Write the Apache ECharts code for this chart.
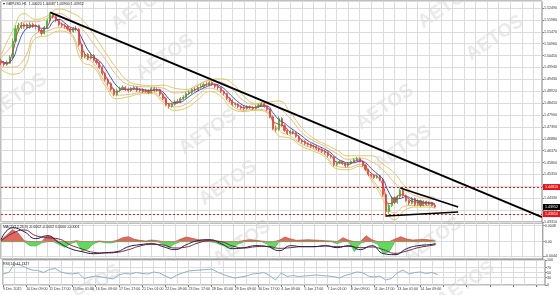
<!DOCTYPE html>
<html><head><meta charset="utf-8">
<script src="https://cdn.jsdelivr.net/npm/echarts@6/dist/echarts.min.js"></script>
<style>html,body{margin:0;padding:0;background:#fff}#c{width:560px;height:295px}</style>
</head><body><div id="c"></div>
<script>
// ---- time axis (4-hour buckets, one tick label every 8 buckets = 32 H1 bars)
const tickLabels = ["9 Dec 2015","10 Dec 09:00","11 Dec 17:00","15 Dec 01:00","16 Dec 09:00","17 Dec 17:00","21 Dec 01:00","22 Dec 09:00","23 Dec 17:00","28 Dec 01:00","29 Dec 09:00","30 Dec 17:00","4 Jan 09:00","5 Jan 17:00","7 Jan 01:00","8 Jan 09:00","11 Jan 17:00","13 Jan 01:00","14 Jan 09:00"];
const slotCount = 188; // includes empty chart shift on the right

// ---- GBPUSD price (OHLC)
const opens = [1.5020,1.5013,1.5006,1.5012,1.5038,1.5106,1.5160,1.5175,1.5168,1.5178,
1.5165,1.5179,1.5170,1.5174,1.5152,1.5140,1.5166,1.5195,1.5222,1.5212,
1.5196,1.5178,1.5174,1.5170,1.5160,1.5148,1.5161,1.5158,1.5092,1.5040,
1.5050,1.5033,1.5046,1.5024,1.5015,1.4993,1.4968,1.4942,1.4925,1.4899,
1.4878,1.4895,1.4904,1.4909,1.4900,1.4895,1.4904,1.4908,1.4896,1.4899,
1.4891,1.4895,1.4887,1.4903,1.4896,1.4899,1.4878,1.4861,1.4835,1.4827,
1.4836,1.4848,1.4846,1.4861,1.4866,1.4882,1.4887,1.4899,1.4897,1.4909,
1.4913,1.4921,1.4919,1.4929,1.4921,1.4912,1.4907,1.4891,1.4882,1.4861,
1.4852,1.4835,1.4836,1.4826,1.4821,1.4818,1.4826,1.4822,1.4818,1.4826,
1.4831,1.4838,1.4827,1.4814,1.4783,1.4731,1.4728,1.4775,1.4745,1.4724,
1.4711,1.4719,1.4714,1.4698,1.4681,1.4676,1.4668,1.4663,1.4655,1.4656,
1.4647,1.4641,1.4634,1.4629,1.4616,1.4611,1.4577,1.4583,1.4590,1.4581,
1.4572,1.4582,1.4590,1.4598,1.4603,1.4591,1.4574,1.4556,1.4535,1.4530,
1.4522,1.4529,1.4513,1.4449,1.4376,1.4402,1.4436,1.4415,1.4440,1.4466,
1.4445,1.4423,1.4411,1.4432,1.4406,1.4423,1.4402,1.4419,1.4406,1.4415,
1.44020];
const closes = [1.5013,1.5006,1.5012,1.5038,1.5106,1.5160,1.5175,1.5168,1.5178,1.5165,
1.5179,1.5170,1.5174,1.5152,1.5140,1.5166,1.5195,1.5222,1.5212,1.5196,
1.5178,1.5174,1.5170,1.5160,1.5148,1.5161,1.5158,1.5092,1.5040,1.5050,
1.5033,1.5046,1.5024,1.5015,1.4993,1.4968,1.4942,1.4925,1.4899,1.4878,
1.4895,1.4904,1.4909,1.4900,1.4895,1.4904,1.4908,1.4896,1.4899,1.4891,
1.4895,1.4887,1.4903,1.4896,1.4899,1.4878,1.4861,1.4835,1.4827,1.4836,
1.4848,1.4846,1.4861,1.4866,1.4882,1.4887,1.4899,1.4897,1.4909,1.4913,
1.4921,1.4919,1.4929,1.4921,1.4912,1.4907,1.4891,1.4882,1.4861,1.4852,
1.4835,1.4836,1.4826,1.4821,1.4818,1.4826,1.4822,1.4818,1.4826,1.4831,
1.4838,1.4827,1.4814,1.4783,1.4731,1.4728,1.4775,1.4745,1.4724,1.4711,
1.4719,1.4714,1.4698,1.4681,1.4676,1.4668,1.4663,1.4655,1.4656,1.4647,
1.4641,1.4634,1.4629,1.4616,1.4611,1.4577,1.4583,1.4590,1.4581,1.4572,
1.4582,1.4590,1.4598,1.4603,1.4591,1.4574,1.4556,1.4535,1.4530,1.4522,
1.4529,1.4513,1.4449,1.4376,1.4402,1.4436,1.4415,1.4440,1.4466,1.4445,
1.4423,1.4411,1.4432,1.4406,1.4423,1.4402,1.4419,1.4406,1.4415,1.4402,
1.43952];
const highs = [1.5032,1.5021,1.5024,1.5046,1.5118,1.5174,1.5186,1.5189,1.5185,1.5183,
1.5188,1.5186,1.5181,1.5178,1.5159,1.5172,1.5203,1.5230,1.5228,1.5218,
1.5201,1.5187,1.5182,1.5176,1.5164,1.5168,1.5172,1.5163,1.5098,1.5062,
1.5056,1.5058,1.5051,1.5032,1.5020,1.5001,1.4974,1.4950,1.4931,1.4905,
1.4902,1.4912,1.4918,1.4915,1.4908,1.4911,1.4916,1.4913,1.4906,1.4905,
1.4903,1.4900,1.4911,1.4910,1.4907,1.4903,1.4884,1.4866,1.4842,1.4843,
1.4855,1.4858,1.4867,1.4875,1.4889,1.4896,1.4905,1.4908,1.4915,1.4922,
1.4928,1.4931,1.4936,1.4934,1.4926,1.4918,1.4911,1.4897,1.4886,1.4868,
1.4857,1.4844,1.4841,1.4832,1.4829,1.4833,1.4831,1.4828,1.4833,1.4839,
1.4846,1.4843,1.4831,1.4819,1.4788,1.4742,1.4786,1.4781,1.4750,1.4731,
1.4727,1.4724,1.4719,1.4703,1.4688,1.4682,1.4673,1.4669,1.4663,1.4661,
1.4652,1.4647,1.4640,1.4634,1.4622,1.4615,1.4591,1.4597,1.4594,1.4586,
1.4588,1.4596,1.4606,1.4611,1.4607,1.4595,1.4579,1.4560,1.4541,1.4536,
1.4535,1.4533,1.4517,1.4453,1.4410,1.4442,1.4441,1.4447,1.4475,1.4470,
1.4449,1.4427,1.4438,1.4436,1.4429,1.4427,1.4425,1.4423,1.4420,1.4418,
1.44087];
const lows = [1.5004,1.4998,1.5001,1.5008,1.5031,1.5099,1.5150,1.5159,1.5160,1.5157,
1.5160,1.5163,1.5158,1.5146,1.5131,1.5135,1.5160,1.5189,1.5203,1.5188,
1.5170,1.5165,1.5161,1.5152,1.5140,1.5143,1.5149,1.5084,1.5031,1.5033,
1.5025,1.5027,1.5018,1.5006,1.4987,1.4960,1.4935,1.4916,1.4891,1.4870,
1.4872,1.4887,1.4897,1.4893,1.4887,1.4889,1.4898,1.4889,1.4888,1.4884,
1.4885,1.4879,1.4882,1.4889,1.4888,1.4871,1.4853,1.4826,1.4818,1.4821,
1.4830,1.4839,1.4841,1.4854,1.4860,1.4875,1.4880,1.4890,1.4891,1.4902,
1.4906,1.4912,1.4913,1.4915,1.4905,1.4898,1.4884,1.4874,1.4855,1.4844,
1.4828,1.4826,1.4819,1.4813,1.4810,1.4812,1.4815,1.4811,1.4813,1.4820,
1.4826,1.4821,1.4807,1.4776,1.4724,1.4719,1.4722,1.4739,1.4717,1.4704,
1.4705,1.4706,1.4691,1.4674,1.4668,1.4661,1.4655,1.4648,1.4646,1.4640,
1.4633,1.4627,1.4620,1.4609,1.4603,1.4569,1.4571,1.4578,1.4575,1.4564,
1.4567,1.4577,1.4585,1.4592,1.4586,1.4568,1.4549,1.4528,1.4521,1.4515,
1.4516,1.4506,1.4440,1.4352,1.4368,1.4396,1.4408,1.4410,1.4434,1.4439,
1.4416,1.4403,1.4406,1.4399,1.4400,1.4396,1.4398,1.4401,1.4402,1.4397,
1.43900];

// ---- envelope bands, read every 4 buckets (last one at bucket 150)
const outerUp = [1.5045,1.5150,1.5225,1.5200,1.5215,1.5245,1.5230,1.5200,1.5135,1.5060,1.4990,1.4935,1.4920,1.4915,1.4918,1.4905,1.4900,1.4920,1.4940,1.4945,1.4925,1.4870,1.4840,1.4845,1.4850,1.4800,1.4735,1.4690,1.4665,1.4640,1.4615,1.4615,1.4615,1.4580,1.4540,1.4480,1.4450,1.4440,1.4435];
const outerLow = [1.4985,1.4965,1.4990,1.5120,1.5130,1.5150,1.5135,1.5020,1.4995,1.4915,1.4860,1.4868,1.4880,1.4882,1.4845,1.4810,1.4820,1.4855,1.4890,1.4870,1.4815,1.4805,1.4810,1.4800,1.4700,1.4690,1.4655,1.4635,1.4610,1.4560,1.4555,1.4570,1.4510,1.4430,1.4340,1.4385,1.4395,1.4395,1.4390];
const innerUp = [1.5035,1.5095,1.5190,1.5190,1.5205,1.5225,1.5200,1.5160,1.5095,1.5030,1.4960,1.4920,1.4912,1.4910,1.4905,1.4885,1.4890,1.4915,1.4936,1.4930,1.4900,1.4850,1.4836,1.4838,1.4820,1.4775,1.4715,1.4680,1.4655,1.4625,1.4600,1.4605,1.4590,1.4555,1.4500,1.4465,1.4440,1.4430,1.4428];
const innerLow = [1.4995,1.4995,1.5030,1.5140,1.5150,1.5165,1.5145,1.5050,1.5010,1.4930,1.4875,1.4878,1.4886,1.4888,1.4855,1.4825,1.4838,1.4875,1.4905,1.4885,1.4830,1.4810,1.4815,1.4805,1.4725,1.4700,1.4665,1.4645,1.4618,1.4570,1.4565,1.4578,1.4520,1.4450,1.4370,1.4400,1.4402,1.4402,1.4398];

// ---- moving averages, read every 2 buckets
const maFast = [1.5016,1.5010,1.5060,1.5150,1.5174,1.5173,1.5173,1.5150,1.5170,1.5212,1.5190,1.5174,1.5156,1.5158,1.5080,1.5040,1.5035,1.5008,1.4960,1.4918,1.4888,1.4902,1.4900,1.4903,1.4898,1.4893,1.4895,1.4898,1.4875,1.4838,1.4838,1.4852,1.4872,1.4891,1.4903,1.4914,1.4923,1.4920,1.4902,1.4875,1.4848,1.4832,1.4821,1.4822,1.4822,1.4832,1.4825,1.4765,1.4750,1.4740,1.4716,1.4708,1.4682,1.4667,1.4657,1.4645,1.4634,1.4617,1.4588,1.4585,1.4578,1.4590,1.4597,1.4570,1.4540,1.4526,1.4490,1.4410,1.4420,1.4448,1.4440,1.4420,1.4416,1.4412,1.4411,1.4404];
const maSlow = [1.5022,1.5014,1.5030,1.5095,1.5150,1.5168,1.5172,1.5162,1.5162,1.5190,1.5200,1.5185,1.5166,1.5158,1.5118,1.5070,1.5040,1.5022,1.4990,1.4950,1.4915,1.4900,1.4900,1.4901,1.4901,1.4897,1.4896,1.4898,1.4888,1.4860,1.4843,1.4845,1.4860,1.4878,1.4893,1.4905,1.4916,1.4922,1.4912,1.4893,1.4868,1.4846,1.4830,1.4824,1.4822,1.4827,1.4828,1.4800,1.4770,1.4755,1.4735,1.4718,1.4700,1.4680,1.4667,1.4655,1.4643,1.4628,1.4605,1.4592,1.4585,1.4585,1.4592,1.4585,1.4560,1.4538,1.4515,1.4460,1.4430,1.4432,1.4440,1.4430,1.4422,1.4416,1.4414,1.4410];

// ---- drawn trend lines [bucket, price]
const mainTrend = [[17, 1.5230], [187, 1.4352]];
const triUpper = [[138, 1.4477], [158, 1.4395]];
const triLower = [[133, 1.4357], [158, 1.4374]];
const levelLines = [1.4481, 1.4365];

// ---- MACD panel
const macdHist = [0.0005,0.0020,0.0036,0.0025,0.0003,-0.0012,-0.0013,-0.0004,0.0018,0.0012,-0.0008,-0.0017,-0.0006,0.0003,-0.0028,-0.0022,-0.0006,0.0002,-0.0003,-0.0004,0.0004,0.0012,0.0015,0.0007,0.0004,0.0002,0.0005,0.0003,-0.0008,-0.0018,-0.0006,0.0008,0.0014,0.0010,0.0006,0.0005,0.0004,-0.0003,-0.0010,-0.0015,-0.0018,-0.0006,0.0004,0.0006,0.0004,0.0002,-0.0008,-0.0024,0.0004,0.0014,0.0008,0.0004,0.0005,0.0006,0.0005,0.0004,0.0003,0.0002,-0.0006,0.0012,0.0004,-0.0030,-0.0005,0.0018,0.0006,-0.0008,-0.0036,-0.0030,0.0008,0.0015,0.0008,0.0005,0.0006,0.0007,0.0005,0.0004];
const macdMain = [0.0006,0.0042,0.0030,0.0009,0.0018,-0.0003,-0.0021,-0.0030,-0.0036,-0.0033,-0.0030,-0.0015,-0.0009,-0.0006,-0.0015,-0.0024,-0.0009,0.0003,0.0006,-0.0006,-0.0021,-0.0018,-0.0012,-0.0015,-0.0027,-0.0012,-0.0015,-0.0015,-0.0012,-0.0018,-0.0012,-0.0024,-0.0012,-0.0036,-0.0039,-0.0021,-0.0012,-0.0009,-0.0006];
const macdSignal = [0.0002,0.0025,0.0035,0.0018,0.0012,0.0008,-0.0010,-0.0022,-0.0032,-0.0034,-0.0032,-0.0024,-0.0013,-0.0008,-0.0010,-0.0019,-0.0016,-0.0004,0.0003,0.0000,-0.0013,-0.0019,-0.0015,-0.0014,-0.0020,-0.0018,-0.0015,-0.0015,-0.0013,-0.0015,-0.0014,-0.0018,-0.0016,-0.0024,-0.0035,-0.0028,-0.0018,-0.0012,-0.0009];
const macdTicks = [0.0048, 0, -0.0044];
const macdLegend = [-0.0002, -0.0002, 0.0000, -0.0001];

// ---- RSI panel, read every 2 buckets
const rsi = [45,50,85,80,68,60,58,50,62,66,52,46,44,48,26,32,36,32,28,24,40,46,44,50,46,44,52,48,36,26,40,48,56,58,60,62,64,52,42,34,28,32,36,44,46,50,38,20,48,34,38,34,36,38,40,38,36,34,28,38,44,52,50,36,32,36,20,26,48,60,44,50,52,46,50,41.1327];
const rsiTicks = [100, 70, 50, 30, 0];

// ---------------- build chart ----------------
const slots = Array.from({length: slotCount}, (_, i) => String(i));
const idx4 = outerUp.map((_, k) => Math.min(k * 4, closes.length - 1));
const idx2 = maFast.map((_, k) => k * 2);
const pairs = (idx, vals) => idx.map((c, k) => [c, vals[k]]);
const last = closes.length - 1;
const FONT = 'Liberation Sans';
const TXT = 3.6;

function xAx(gi, labels) {
  return {
    type: 'category', gridIndex: gi, data: slots, boundaryGap: false,
    axisLine: {show: false},
    axisTick: {show: labels, interval: 7, length: 2, lineStyle: {color: '#777'}},
    axisLabel: {show: labels, interval: 7, fontSize: TXT, fontFamily: FONT, color: '#333', align: 'left', margin: 2,
      formatter: (v, i) => (i % 8 === 0 && tickLabels[i / 8]) ? tickLabels[i / 8] : ''},
    splitLine: {show: true, interval: 3, lineStyle: {color: '#dcdcdc', width: 1}}
  };
}
const ylab = {fontSize: TXT, fontFamily: FONT, color: '#333', margin: 2};

function lineS(data, color, opts) {
  return Object.assign({type: 'line', data, symbol: 'none', showSymbol: false, silent: true,
    lineStyle: {color, width: 1}, itemStyle: {color}, xAxisIndex: 0, yAxisIndex: 0, z: 3}, opts || {});
}

const boxLabel = (bg) => ({show: true, position: 'end', distance: 1, fontSize: TXT, fontFamily: FONT, color: '#fff',
  backgroundColor: bg, padding: [1, 2], formatter: p => Number(p.value).toFixed(5)});

const wm = [[140,8],[165,57],[447,6],[495,38],[208,132],[228,183],[385,107],[403,148],[433,240],[466,284],[92,287],[242,243],[18,96]];
const small = TXT + 'px "' + FONT + '"';

const option = {
  animation: false,
  backgroundColor: '#fff',
  grid: [
    {left: 1, right: 15, top: 1, bottom: 73, show: true, borderColor: '#808080', borderWidth: 1},
    {left: 1, right: 15, top: 223, height: 36, show: true, borderColor: '#808080', borderWidth: 1},
    {left: 1, right: 15, top: 260, height: 25, show: true, borderColor: '#808080', borderWidth: 1}
  ],
  xAxis: [xAx(0, false), xAx(1, false), xAx(2, true)],
  yAxis: [
    {type: 'value', gridIndex: 0, position: 'right', min: 1.4331, max: 1.5279, interval: 0.0051,
      axisLine: {show: false}, axisTick: {show: true, length: 2, lineStyle: {color: '#888'}},
      axisLabel: Object.assign({formatter: v => v.toFixed(5), showMaxLabel: false}, ylab),
      splitLine: {lineStyle: {color: '#dcdcdc'}}},
    {type: 'value', gridIndex: 1, position: 'right', min: -0.0052, max: 0.0056,
      axisLine: {show: false}, axisTick: {show: true, length: 2, customValues: macdTicks, lineStyle: {color: '#888'}},
      axisLabel: Object.assign({customValues: macdTicks, formatter: v => v === 0 ? '0.00' : v.toFixed(4)}, ylab),
      splitLine: {show: true, lineStyle: {color: '#dcdcdc'}}},
    {type: 'value', gridIndex: 2, position: 'right', min: 0, max: 100,
      axisLine: {show: false}, axisTick: {show: true, length: 2, customValues: rsiTicks, lineStyle: {color: '#888'}},
      axisLabel: Object.assign({customValues: rsiTicks}, ylab),
      splitLine: {show: true, lineStyle: {color: '#dcdcdc'}}}
  ],
  graphic: wm.map(([x, y]) => ({type: 'text', x, y, rotation: 0.6, z: 0, silent: true,
      style: {text: 'AETOS', font: 'bold 19px "Liberation Sans"', fill: 'rgba(160,160,160,0.22)', align: 'center', verticalAlign: 'middle'}}))
    .concat([
      {type: 'text', left: 3, top: 2, z: 10, style: {text: '\u25BE GBPUSD,H1  ' + [opens[last], highs[last], lows[last], closes[last]].map(v => v.toFixed(5)).join(' '), font: small, fill: '#222'}},
      {type: 'text', left: 3, top: 225, z: 10, style: {text: 'MACD(12,26,9) ' + macdLegend.map(v => v.toFixed(4)).join(' '), font: small, fill: '#222'}},
      {type: 'text', left: 3, top: 262, z: 10, style: {text: 'RSI(14) ' + rsi[rsi.length-1].toFixed(4), font: small, fill: '#222'}}
    ]),
  series: [
    lineS(pairs(idx4, outerUp), '#d8cc62', {smooth: true, z: 1}),
    lineS(pairs(idx4, outerLow), '#d8cc62', {smooth: true, z: 1}),
    lineS(pairs(idx4, innerUp), '#ecb983', {smooth: true, z: 1}),
    lineS(pairs(idx4, innerLow), '#ecb983', {smooth: true, z: 1}),
    {type: 'candlestick', xAxisIndex: 0, yAxisIndex: 0, z: 2, silent: true, barWidth: 1.6,
      data: closes.map((c, i) => [opens[i], c, lows[i], highs[i]]),
      itemStyle: {color: '#36c936', color0: '#e8553f', borderColor: '#2fb82f', borderColor0: '#e04a35', borderWidth: 0.8},
      markLine: {symbol: 'none', silent: true, animation: false, precision: 5,
        data: [
          {yAxis: levelLines[0], lineStyle: {color: '#e3161b', type: [2, 2], width: 1}, label: boxLabel('#e3161b')},
          {yAxis: levelLines[1], lineStyle: {color: '#e3161b', type: [2, 2], width: 1}, label: boxLabel('#e3161b')},
          {yAxis: closes[last], lineStyle: {color: 'rgba(0,0,0,0)', width: 1}, label: boxLabel('#000')}
        ]}},
    lineS(pairs(idx2, maSlow), '#3a4fc4', {smooth: true, z: 3}),
    lineS(pairs(idx2, maFast), '#e23a3a', {smooth: true, z: 3}),
    lineS(mainTrend, '#000', {lineStyle: {color: '#000', width: 2}, z: 5}),
    lineS(triUpper, '#000', {lineStyle: {color: '#000', width: 1.6}, z: 5}),
    lineS(triLower, '#000', {lineStyle: {color: '#000', width: 1.6}, z: 5}),
    lineS(pairs(idx2, macdHist.map(v => v > 0 ? v : 0)), '#c9493f', {xAxisIndex: 1, yAxisIndex: 1, z: 2,
      lineStyle: {color: '#b8403a', width: 0.6}, areaStyle: {color: '#de6a5f', opacity: 1}}),
    lineS(pairs(idx2, macdHist.map(v => v < 0 ? v : 0)), '#3fc03f', {xAxisIndex: 1, yAxisIndex: 1, z: 2,
      lineStyle: {color: '#35b035', width: 0.6}, areaStyle: {color: '#5fdc5f', opacity: 1}}),
    lineS(pairs(idx4, macdSignal), '#7a2a3a', {xAxisIndex: 1, yAxisIndex: 1, smooth: true, z: 3}),
    lineS(pairs(idx4, macdMain), '#1e1e50', {xAxisIndex: 1, yAxisIndex: 1, smooth: true, z: 4}),
    lineS(pairs(idx2, rsi), '#88b4c8', {xAxisIndex: 2, yAxisIndex: 2, z: 3})
  ]
};
const chart = echarts.init(document.getElementById('c'), null, {renderer: 'canvas'});
chart.setOption(option);
</script>
</body></html>
